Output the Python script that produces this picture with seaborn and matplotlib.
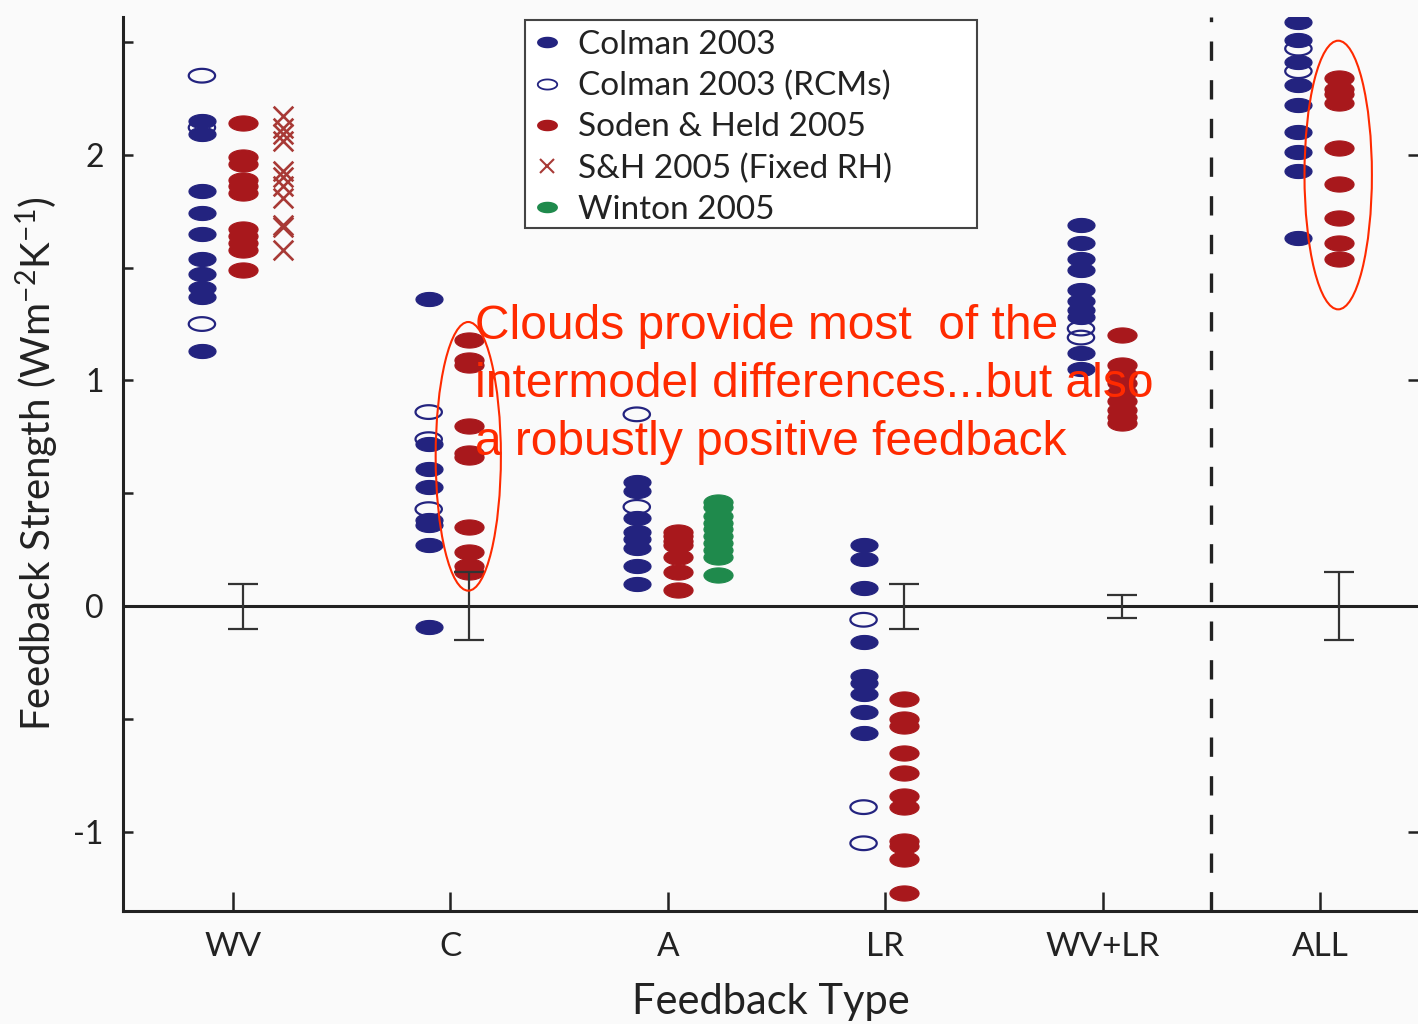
import numpy as np
import pandas as pd
import matplotlib
matplotlib.use("Agg")
import matplotlib.pyplot as plt
from matplotlib.path import Path
from matplotlib.patches import Ellipse, Rectangle
from matplotlib.lines import Line2D
import seaborn as sns

# ---------------- data ----------------
categories = ["WV", "C", "A", "LR", "WV+LR", "ALL"]

colman = {
    "WV": [2.15, 2.09, 1.84, 1.74, 1.65, 1.54, 1.47, 1.41, 1.37, 1.13],
    "C": [1.36, 0.72, 0.61, 0.53, 0.38, 0.36, 0.27, -0.09],
    "A": [0.55, 0.51, 0.39, 0.33, 0.30, 0.26, 0.18, 0.10],
    "LR": [0.27, 0.21, 0.08, -0.16, -0.31, -0.34, -0.39, -0.47, -0.56],
    "WV+LR": [1.69, 1.61, 1.54, 1.49, 1.40, 1.35, 1.31, 1.28, 1.12, 1.05],
    "ALL": [2.59, 2.51, 2.41, 2.31, 2.22, 2.10, 2.01, 1.93, 1.63],
}
colman_rcm = {
    "WV": [2.35, 2.12, 1.25],
    "C": [0.86, 0.74, 0.43],
    "A": [0.85, 0.44],
    "LR": [-0.06, -0.89, -1.05],
    "WV+LR": [1.23, 1.19],
    "ALL": [2.47, 2.37],
}
soden_held = {
    "WV": [2.14, 1.99, 1.96, 1.89, 1.86, 1.83, 1.67, 1.64, 1.61, 1.58, 1.49],
    "C": [1.18, 1.09, 1.07, 0.80, 0.68, 0.66, 0.35, 0.24, 0.18, 0.15],
    "A": [0.33, 0.31, 0.29, 0.27, 0.22, 0.15, 0.07],
    "LR": [-0.41, -0.50, -0.53, -0.65, -0.74, -0.84, -0.89, -1.04, -1.06, -1.12, -1.27],
    "WV+LR": [1.20, 1.07, 1.03, 0.99, 0.95, 0.91, 0.87, 0.84, 0.81],
    "ALL": [2.34, 2.29, 2.27, 2.23, 2.03, 1.87, 1.72, 1.61, 1.54],
}
sh_fixed_rh = {
    "WV": [2.17, 2.12, 2.09, 2.06, 1.93, 1.90, 1.86, 1.81, 1.69, 1.68, 1.58],
}
winton = {
    "A": [0.46, 0.44, 0.40, 0.37, 0.34, 0.31, 0.28, 0.25, 0.22, 0.14],
}
# error bars (half-width) around zero, drawn at the Soden & Held column
err_half = {"WV": 0.10, "C": 0.15, "LR": 0.10, "WV+LR": 0.05, "ALL": 0.15}

annotation = "Clouds provide most  of the\nintermodel differences...but also\na robustly positive feedback"
legend_labels = ["Colman 2003", "Colman 2003 (RCMs)", "Soden & Held 2005",
                 "S&H 2005 (Fixed RH)", "Winton 2005"]

# ---------------- style ----------------
BLUE = "#23237f"
RED = "#a8181c"
XRED = "#a83a36"
GREEN = "#1f8a4c"
ANN = "#ff2a00"
BG = "#fafafa"

sns.set_theme(style="white")
plt.rcParams["font.family"] = ["Lato", "DejaVu Sans"]
plt.rcParams["mathtext.fontset"] = "custom"
plt.rcParams["mathtext.rm"] = "Lato"
plt.rcParams["mathtext.it"] = "Lato:italic"
plt.rcParams["mathtext.bf"] = "Lato:bold"

W, H = 1418, 1024
fig = plt.figure(figsize=(W / 100, H / 100), dpi=100, facecolor=BG)
ax = fig.add_axes([123 / W, 1 - 911 / H, 1 - 123 / W, (911 - 17) / H])
ax.set_facecolor(BG)

# ellipse marker
t = np.linspace(0, 2 * np.pi, 60)
ell = Path(np.column_stack([np.cos(t), 0.52 * np.sin(t)]), closed=True)

# positions: dodge within each category
def offsets(n):
    return [-0.143, 0.046, 0.23] if n == 3 else [-0.10, 0.087]

rows = []
for i, cat in enumerate(categories):
    n = 3 if (cat in sh_fixed_rh or cat in winton) else 2
    off = offsets(n)
    pos = i + 1
    for v in colman.get(cat, []):
        rows.append(dict(cat=cat, series="Colman 2003", x=pos + off[0], y=v))
    for v in colman_rcm.get(cat, []):
        rows.append(dict(cat=cat, series="Colman 2003 (RCMs)", x=pos + off[0], y=v))
    for v in soden_held.get(cat, []):
        rows.append(dict(cat=cat, series="Soden & Held 2005", x=pos + off[1], y=v))
    for v in sh_fixed_rh.get(cat, []):
        rows.append(dict(cat=cat, series="S&H 2005 (Fixed RH)", x=pos + off[2], y=v))
    for v in winton.get(cat, []):
        rows.append(dict(cat=cat, series="Winton 2005", x=pos + off[2], y=v))
df = pd.DataFrame(rows)

MS = 400  # pt^2
sns.scatterplot(data=df[df.series == "Colman 2003"], x="x", y="y", marker=ell,
                s=MS * 0.95, color=BLUE, edgecolor=BLUE, linewidth=0.8, ax=ax, legend=False, zorder=3)
sns.scatterplot(data=df[df.series == "Colman 2003 (RCMs)"], x="x", y="y", marker=ell,
                s=MS * 0.9, facecolor="none", edgecolor=BLUE, linewidth=1.6, ax=ax, legend=False, zorder=3)
sns.scatterplot(data=df[df.series == "Soden & Held 2005"], x="x", y="y", marker=ell,
                s=MS * 1.1, color=RED, edgecolor=RED, linewidth=0.8, ax=ax, legend=False, zorder=3)
sns.scatterplot(data=df[df.series == "S&H 2005 (Fixed RH)"], x="x", y="y", marker="x",
                s=200, color=XRED, linewidth=1.9, ax=ax, legend=False, zorder=3)
sns.scatterplot(data=df[df.series == "Winton 2005"], x="x", y="y", marker=ell,
                s=MS * 1.1, color=GREEN, edgecolor=GREEN, linewidth=0.8, ax=ax, legend=False, zorder=3)

# zero line and separator
ax.axhline(0, color="#222222", lw=2.2, zorder=2)
ax.axvline(5.5, color="#222222", lw=2.4, ls=(0, (5.8, 5.8)), zorder=2)

# error bars at the Soden & Held column
for i, cat in enumerate(categories):
    if cat in err_half:
        n = 3 if (cat in sh_fixed_rh or cat in winton) else 2
        xe = i + 1 + offsets(n)[1]
        ax.errorbar([xe], [0], yerr=[err_half[cat]], fmt="none", ecolor="#333333",
                    elinewidth=1.6, capsize=11, capthick=1.6, zorder=4)

# red annotation ellipses
ax.add_patch(Ellipse((2.082, 0.664), 0.30, 1.19, fill=False, edgecolor=ANN, lw=1.5, zorder=5))
ax.add_patch(Ellipse((6.083, 1.91), 0.31, 1.19, fill=False, edgecolor=ANN, lw=1.5, zorder=5))

ax.text(2.115, 1.338, annotation, color=ANN, fontsize=34.5, family=["Liberation Sans", "DejaVu Sans"],
        va="top", ha="left", linespacing=1.37, zorder=6)

# axes
ax.set_xlim(0.494, 6.45)
ax.set_ylim(-1.35, 2.61)
ax.set_xticks(range(1, len(categories) + 1))
ax.set_xticklabels(categories)
ax.set_xticks([5.5], minor=True)
ax.set_yticks([-1, 0, 1, 2])
ax.set_yticklabels(["-1", "0", "1", "2"])
ax.set_yticks([-0.5, 0.5, 1.5, 2.5], minor=True)

for side in ["top", "right"]:
    ax.spines[side].set_visible(False)
for side in ["left", "bottom"]:
    ax.spines[side].set_linewidth(2.2)
    ax.spines[side].set_color("#222222")

ax.tick_params(axis="x", which="both", direction="in", length=14, width=1.8, color="#222222",
               labelsize=24, labelcolor="#222222", pad=15, bottom=True, top=False)
ax.tick_params(axis="y", which="both", direction="in", length=7, width=1.8, color="#222222",
               labelsize=23, labelcolor="#222222", pad=14, left=True)
ax.tick_params(axis="y", which="major", right=True)
ax.tick_params(axis="y", which="minor", right=False)

ax.set_xlabel("Feedback Type", fontsize=30, color="#222222", labelpad=15)
ax.set_ylabel("Feedback Strength (Wm$^{-2}$K$^{-1}$)", fontsize=29, color="#222222", labelpad=9)

# legend (box drawn separately to match the original's wider frame)
box = Rectangle((525 / W, 1 - 228 / H), (977 - 525) / W, (228 - 20) / H, transform=fig.transFigure,
                facecolor="white", edgecolor="#444444", lw=1.5, zorder=7, clip_on=False)
ax.add_patch(box)
handles = [
    Line2D([], [], ls="none", marker=ell, ms=14, color=BLUE, mec=BLUE),
    Line2D([], [], ls="none", marker=ell, ms=14, mfc="none", mec=BLUE, mew=1.3),
    Line2D([], [], ls="none", marker=ell, ms=14, color=RED, mec=RED),
    Line2D([], [], ls="none", marker="x", ms=10, color=XRED, mew=1.5),
    Line2D([], [], ls="none", marker=ell, ms=14, color=GREEN, mec=GREEN),
]
leg = ax.legend(handles, legend_labels, loc="upper left", bbox_to_anchor=(0.3104, 0.9966),
                borderaxespad=0, fontsize=24, frameon=False, handlelength=0.7, handletextpad=0.6,
                borderpad=0.3, labelspacing=0.33)
leg.set_zorder(8)
for txt in leg.get_texts():
    txt.set_color("#222222")

fig.savefig("out.png", dpi=100, facecolor=BG)
